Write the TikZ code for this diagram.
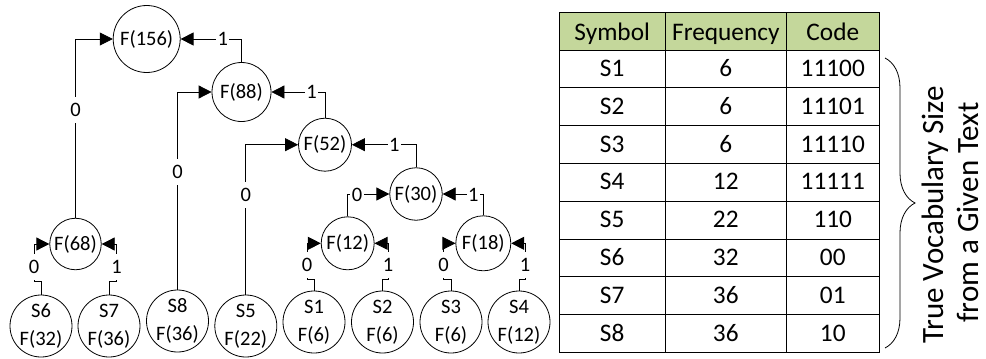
\documentclass[tikz,border=0pt]{standalone}
\usepackage{fontspec}
\setmainfont{Carlito}
\usetikzlibrary{arrows.meta,decorations.pathreplacing}
\definecolor{hdrgreen}{RGB}{196,215,155}

\begin{document}
\begin{tikzpicture}[x=1pt,y=-1pt,
  treefont/.style={font=\fontsize{20.5}{28}\selectfont},
  inner/.style={circle,draw,line width=0.8pt,inner sep=0pt,treefont},
  leaf/.style={circle,draw,line width=0.8pt,inner sep=0pt,minimum size=62pt,align=center,treefont},
  link/.style={line width=0.8pt,-{Triangle[length=13pt,width=13pt]}},
  bit/.style={fill=white,inner xsep=1.5pt,inner ysep=0pt,minimum height=26pt,treefont},
  cell/.style={inner sep=0pt,text height=19pt,text depth=4pt,font=\fontsize{25.3}{30}\selectfont},
  grid/.style={line width=0.8pt},
  caption/.style={rotate=90,anchor=base,inner sep=0pt,font=\fontsize{31}{36}\selectfont},
]
\useasboundingbox (0,0) rectangle (986,359);

% ---------- Huffman tree: internal nodes ----------
\node[inner,minimum size=67pt]   (f156) at (146.7,39)    {F(156)};
\node[inner,minimum size=59pt]   (f88)  at (241.5,92)    {F(88)};
\node[inner,minimum size=53pt]   (f52)  at (325,144.7)   {F(52)};
\node[inner,minimum size=52.5pt] (f30)  at (416,194)     {F(30)};
\node[inner,minimum size=51.5pt] (f68)  at (75.5,244)    {F(68)};
\node[inner,minimum size=53pt]   (f12)  at (347.7,243.3) {F(12)};
\node[inner,minimum size=55pt]   (f18)  at (483.3,243.3) {F(18)};

% ---------- leaves ----------
\node[leaf] (s6) at (41,326)    {S6\\F(32)};
\node[leaf] (s7) at (109,326)   {S7\\F(36)};
\node[leaf] (s8) at (177.5,321) {S8\\F(36)};
\node[leaf] (s5) at (245.8,326) {S5\\F(22)};
\node[leaf] (s1) at (314,322)   {S1\\F(6)};
\node[leaf] (s2) at (382.5,322) {S2\\F(6)};
\node[leaf] (s3) at (451,322)   {S3\\F(6)};
\node[leaf] (s4) at (519,322)   {S4\\F(12)};

% ---------- branches with their bit labels ----------
\draw[link] (f68.north) |- (f156.west);
\node[bit] (b01) at (75.5,110) {0};
\draw[link] (f88.north) |- (f156.east);
\node[bit] (b02) at (222.7,39) {1};

\draw[link] (s8.north) |- (f88.west);
\node[bit] (b03) at (177.5,172) {0};
\draw[link] (f52.north) |- (f88.east);
\node[bit] (b04) at (311.5,92) {1};

\draw[link] (s5.north) |- (f52.west);
\node[bit] (b05) at (245.8,195) {0};
\draw[link] (f30.north) |- (f52.east);
\node[bit] (b06) at (394.3,145) {1};

\draw[link] (f12.north) |- (f30.west);
\node[bit] (b07) at (357,195) {0};
\draw[link] (f18.north) |- (f30.east);
\node[bit] (b08) at (473.3,195) {1};

\draw[link] (s6.north) |- (34,281.7) |- (f68.west);
\node[bit] (b09) at (34,267.3) {0};
\draw[link] (s7.north) |- (116.5,281.7) |- (f68.east);
\node[bit] (b10) at (116.5,267.3) {1};

\draw[link] (s1.north) |- (307,279) |- (f12.west);
\node[bit] (b11) at (307,265) {0};
\draw[link] (s2.north) |- (388,279) |- (f12.east);
\node[bit] (b12) at (388,265) {1};

\draw[link] (s3.north) |- (443.5,279) |- (f18.west);
\node[bit] (b13) at (443.5,265) {0};
\draw[link] (s4.north) |- (525,279) |- (f18.east);
\node[bit] (b14) at (525,265) {1};

% ---------- code table ----------
\fill[hdrgreen] (559.3,12.7) rectangle (879,50);
\foreach \r in {50,87.8,125.6,163.4,201.2,239,276.8,314.6}
  \draw[grid] (559.3,\r) -- (879,\r);
\draw[grid] (665,12.7) -- (665,352.4);
\draw[grid] (786.7,12.7) -- (786.7,352.4);
\draw[grid] (559.3,12.7) rectangle (879,352.4);

\node[cell] (hsym)  at (612.2,32.5) {Symbol};
\node[cell] (hfreq) at (725.8,32.5) {Frequency};
\node[cell] (hcode) at (832.8,32.5) {Code};

\foreach \s/\f/\c [count=\i] in {S1/6/11100, S2/6/11101, S3/6/11110, S4/12/11111,
                                 S5/22/110, S6/32/00, S7/36/01, S8/36/10} {
  \node[cell] (sym\i)  at (612.2,{50+37.8*(\i-0.5)}) {\s};
  \node[cell] (freq\i) at (725.8,{50+37.8*(\i-0.5)}) {\f};
  \node[cell] (code\i) at (832.8,{50+37.8*(\i-0.5)}) {\c};
}

% ---------- brace and its caption ----------
\draw[line width=0.8pt,decorate,decoration={brace,amplitude=30pt}]
  (885,58) -- (885,348);
\node[caption] (vocab1) at (943.5,215)   {True Vocabulary Size};
\node[caption] (vocab2) at (978.5,212.5) {from a Given Text};
\end{tikzpicture}
\end{document}
